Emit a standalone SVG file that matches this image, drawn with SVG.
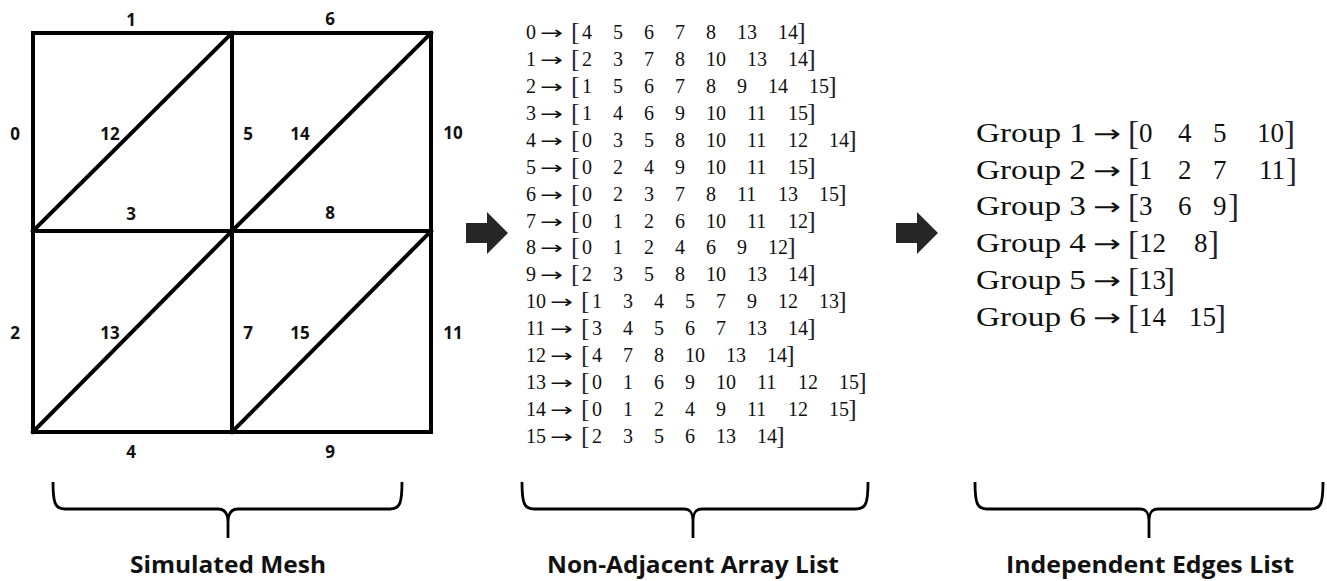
<svg xmlns="http://www.w3.org/2000/svg" width="1327" height="581" viewBox="0 0 1327 581">
<style>
.edge{stroke:#000;stroke-width:4;stroke-linecap:square;fill:none}
.el{font-family:"Open Sans","Liberation Sans",sans-serif;font-weight:bold;font-size:17px;fill:#111;text-anchor:middle}
.m{font-family:"Liberation Serif",serif;font-size:20px;fill:#111}
.ma{font-family:"DejaVu Sans",sans-serif;font-size:18px;fill:#111}
.mb{font-family:"Liberation Serif",serif;font-size:26px;fill:#223}
.g{font-family:"Liberation Serif",serif;font-size:27px;fill:#111}
.ga{font-family:"DejaVu Sans",sans-serif;font-size:24px;fill:#111}
.gb{font-family:"Liberation Serif",serif;font-size:33px;fill:#223}
.brace{fill:none;stroke:#000;stroke-width:2.8;stroke-linejoin:round}
.cap{font-family:"Open Sans","Liberation Sans",sans-serif;font-weight:bold;font-size:24px;fill:#111;text-anchor:middle}
.blk{fill:#262626}
</style>
<rect width="1327" height="581" fill="#fff"/>

<g id="mesh">
  <rect class="edge" x="33" y="33" width="398" height="399"/>
  <line class="edge" x1="232" y1="33" x2="232" y2="432"/>
  <line class="edge" x1="33" y1="231" x2="431" y2="231"/>
  <line class="edge" x1="33" y1="231" x2="232" y2="33"/>
  <line class="edge" x1="232" y1="231" x2="431" y2="33"/>
  <line class="edge" x1="33" y1="432" x2="232" y2="231"/>
  <line class="edge" x1="232" y1="432" x2="431" y2="231"/>
</g>

<g id="mesh-labels">
  <text class="el" x="131" y="26">1</text>
  <text class="el" x="330" y="25">6</text>
  <text class="el" x="15" y="140">0</text>
  <text class="el" x="110" y="140">12</text>
  <text class="el" x="248" y="140">5</text>
  <text class="el" x="300" y="140">14</text>
  <text class="el" x="453" y="139">10</text>
  <text class="el" x="131" y="220">3</text>
  <text class="el" x="330" y="219">8</text>
  <text class="el" x="15" y="339">2</text>
  <text class="el" x="110" y="339">13</text>
  <text class="el" x="248" y="339">7</text>
  <text class="el" x="300" y="339">15</text>
  <text class="el" x="453" y="339">11</text>
  <text class="el" x="131" y="458">4</text>
  <text class="el" x="330" y="458">9</text>
</g>

<g id="connectors">
  <path id="arrow1" class="blk" d="M466,223 H487 V212 L508,233 L487,254 V243 H466 Z"/>
  <path id="arrow2" class="blk" d="M896,223 H917 V212 L938,233 L917,254 V243 H896 Z"/>
</g>

<g id="non-adjacent-list">
  <g id="row0"><text class="m" y="39"><tspan x="526">0</tspan><tspan x="582">4</tspan><tspan x="613">5</tspan><tspan x="644">6</tspan><tspan x="675">7</tspan><tspan x="706">8</tspan><tspan x="737">13</tspan><tspan x="778">14</tspan></text><text class="ma" x="540" y="39" textLength="23" lengthAdjust="spacingAndGlyphs">→</text><text class="mb" y="40"><tspan x="571">[</tspan><tspan x="797">]</tspan></text></g>
  <g id="row1"><text class="m" y="65.9"><tspan x="526">1</tspan><tspan x="582">2</tspan><tspan x="613">3</tspan><tspan x="644">7</tspan><tspan x="675">8</tspan><tspan x="706">10</tspan><tspan x="747">13</tspan><tspan x="788">14</tspan></text><text class="ma" x="540" y="65.9" textLength="23" lengthAdjust="spacingAndGlyphs">→</text><text class="mb" y="66.9"><tspan x="571">[</tspan><tspan x="807">]</tspan></text></g>
  <g id="row2"><text class="m" y="92.9"><tspan x="526">2</tspan><tspan x="582">1</tspan><tspan x="613">5</tspan><tspan x="644">6</tspan><tspan x="675">7</tspan><tspan x="706">8</tspan><tspan x="737">9</tspan><tspan x="768">14</tspan><tspan x="809">15</tspan></text><text class="ma" x="540" y="92.9" textLength="23" lengthAdjust="spacingAndGlyphs">→</text><text class="mb" y="93.9"><tspan x="571">[</tspan><tspan x="828">]</tspan></text></g>
  <g id="row3"><text class="m" y="119.8"><tspan x="526">3</tspan><tspan x="582">1</tspan><tspan x="613">4</tspan><tspan x="644">6</tspan><tspan x="675">9</tspan><tspan x="706">10</tspan><tspan x="747">11</tspan><tspan x="788">15</tspan></text><text class="ma" x="540" y="119.8" textLength="23" lengthAdjust="spacingAndGlyphs">→</text><text class="mb" y="120.8"><tspan x="571">[</tspan><tspan x="807">]</tspan></text></g>
  <g id="row4"><text class="m" y="146.7"><tspan x="526">4</tspan><tspan x="582">0</tspan><tspan x="613">3</tspan><tspan x="644">5</tspan><tspan x="675">8</tspan><tspan x="706">10</tspan><tspan x="747">11</tspan><tspan x="788">12</tspan><tspan x="829">14</tspan></text><text class="ma" x="540" y="146.7" textLength="23" lengthAdjust="spacingAndGlyphs">→</text><text class="mb" y="147.7"><tspan x="571">[</tspan><tspan x="848">]</tspan></text></g>
  <g id="row5"><text class="m" y="173.7"><tspan x="526">5</tspan><tspan x="582">0</tspan><tspan x="613">2</tspan><tspan x="644">4</tspan><tspan x="675">9</tspan><tspan x="706">10</tspan><tspan x="747">11</tspan><tspan x="788">15</tspan></text><text class="ma" x="540" y="173.7" textLength="23" lengthAdjust="spacingAndGlyphs">→</text><text class="mb" y="174.7"><tspan x="571">[</tspan><tspan x="807">]</tspan></text></g>
  <g id="row6"><text class="m" y="200.6"><tspan x="526">6</tspan><tspan x="582">0</tspan><tspan x="613">2</tspan><tspan x="644">3</tspan><tspan x="675">7</tspan><tspan x="706">8</tspan><tspan x="737">11</tspan><tspan x="778">13</tspan><tspan x="819">15</tspan></text><text class="ma" x="540" y="200.6" textLength="23" lengthAdjust="spacingAndGlyphs">→</text><text class="mb" y="201.6"><tspan x="571">[</tspan><tspan x="838">]</tspan></text></g>
  <g id="row7"><text class="m" y="227.5"><tspan x="526">7</tspan><tspan x="582">0</tspan><tspan x="613">1</tspan><tspan x="644">2</tspan><tspan x="675">6</tspan><tspan x="706">10</tspan><tspan x="747">11</tspan><tspan x="788">12</tspan></text><text class="ma" x="540" y="227.5" textLength="23" lengthAdjust="spacingAndGlyphs">→</text><text class="mb" y="228.5"><tspan x="571">[</tspan><tspan x="807">]</tspan></text></g>
  <g id="row8"><text class="m" y="254.4"><tspan x="526">8</tspan><tspan x="582">0</tspan><tspan x="613">1</tspan><tspan x="644">2</tspan><tspan x="675">4</tspan><tspan x="706">6</tspan><tspan x="737">9</tspan><tspan x="768">12</tspan></text><text class="ma" x="540" y="254.4" textLength="23" lengthAdjust="spacingAndGlyphs">→</text><text class="mb" y="255.4"><tspan x="571">[</tspan><tspan x="787">]</tspan></text></g>
  <g id="row9"><text class="m" y="281.4"><tspan x="526">9</tspan><tspan x="582">2</tspan><tspan x="613">3</tspan><tspan x="644">5</tspan><tspan x="675">8</tspan><tspan x="706">10</tspan><tspan x="747">13</tspan><tspan x="788">14</tspan></text><text class="ma" x="540" y="281.4" textLength="23" lengthAdjust="spacingAndGlyphs">→</text><text class="mb" y="282.4"><tspan x="571">[</tspan><tspan x="807">]</tspan></text></g>
  <g id="row10"><text class="m" y="308.3"><tspan x="526">10</tspan><tspan x="592">1</tspan><tspan x="623">3</tspan><tspan x="654">4</tspan><tspan x="685">5</tspan><tspan x="716">7</tspan><tspan x="747">9</tspan><tspan x="778">12</tspan><tspan x="819">13</tspan></text><text class="ma" x="550" y="308.3" textLength="23" lengthAdjust="spacingAndGlyphs">→</text><text class="mb" y="309.3"><tspan x="581">[</tspan><tspan x="838">]</tspan></text></g>
  <g id="row11"><text class="m" y="335.2"><tspan x="526">11</tspan><tspan x="592">3</tspan><tspan x="623">4</tspan><tspan x="654">5</tspan><tspan x="685">6</tspan><tspan x="716">7</tspan><tspan x="747">13</tspan><tspan x="788">14</tspan></text><text class="ma" x="550" y="335.2" textLength="23" lengthAdjust="spacingAndGlyphs">→</text><text class="mb" y="336.2"><tspan x="581">[</tspan><tspan x="807">]</tspan></text></g>
  <g id="row12"><text class="m" y="362.2"><tspan x="526">12</tspan><tspan x="592">4</tspan><tspan x="623">7</tspan><tspan x="654">8</tspan><tspan x="685">10</tspan><tspan x="726">13</tspan><tspan x="767">14</tspan></text><text class="ma" x="550" y="362.2" textLength="23" lengthAdjust="spacingAndGlyphs">→</text><text class="mb" y="363.2"><tspan x="581">[</tspan><tspan x="786">]</tspan></text></g>
  <g id="row13"><text class="m" y="389.1"><tspan x="526">13</tspan><tspan x="592">0</tspan><tspan x="623">1</tspan><tspan x="654">6</tspan><tspan x="685">9</tspan><tspan x="716">10</tspan><tspan x="757">11</tspan><tspan x="798">12</tspan><tspan x="839">15</tspan></text><text class="ma" x="550" y="389.1" textLength="23" lengthAdjust="spacingAndGlyphs">→</text><text class="mb" y="390.1"><tspan x="581">[</tspan><tspan x="858">]</tspan></text></g>
  <g id="row14"><text class="m" y="416"><tspan x="526">14</tspan><tspan x="592">0</tspan><tspan x="623">1</tspan><tspan x="654">2</tspan><tspan x="685">4</tspan><tspan x="716">9</tspan><tspan x="747">11</tspan><tspan x="788">12</tspan><tspan x="829">15</tspan></text><text class="ma" x="550" y="416" textLength="23" lengthAdjust="spacingAndGlyphs">→</text><text class="mb" y="417"><tspan x="581">[</tspan><tspan x="848">]</tspan></text></g>
  <g id="row15"><text class="m" y="443"><tspan x="526">15</tspan><tspan x="592">2</tspan><tspan x="623">3</tspan><tspan x="654">5</tspan><tspan x="685">6</tspan><tspan x="716">13</tspan><tspan x="757">14</tspan></text><text class="ma" x="550" y="443" textLength="23" lengthAdjust="spacingAndGlyphs">→</text><text class="mb" y="444"><tspan x="581">[</tspan><tspan x="776">]</tspan></text></g>
</g>

<g id="independent-edges">
  <g id="group1"><text class="g" y="142"><tspan x="976" textLength="110" lengthAdjust="spacingAndGlyphs">Group 1</tspan><tspan x="1139">0</tspan><tspan x="1178">4</tspan><tspan x="1213">5</tspan><tspan x="1257">10</tspan></text><text class="ga" x="1093" y="142" textLength="28" lengthAdjust="spacingAndGlyphs">→</text><text class="gb" y="144"><tspan x="1128">[</tspan><tspan x="1284">]</tspan></text></g>
  <g id="group2"><text class="g" y="178.7"><tspan x="976" textLength="110" lengthAdjust="spacingAndGlyphs">Group 2</tspan><tspan x="1139">1</tspan><tspan x="1178">2</tspan><tspan x="1213">7</tspan><tspan x="1259">11</tspan></text><text class="ga" x="1093" y="178.7" textLength="28" lengthAdjust="spacingAndGlyphs">→</text><text class="gb" y="180.7"><tspan x="1128">[</tspan><tspan x="1286">]</tspan></text></g>
  <g id="group3"><text class="g" y="215.4"><tspan x="976" textLength="110" lengthAdjust="spacingAndGlyphs">Group 3</tspan><tspan x="1139">3</tspan><tspan x="1178">6</tspan><tspan x="1213">9</tspan></text><text class="ga" x="1093" y="215.4" textLength="28" lengthAdjust="spacingAndGlyphs">→</text><text class="gb" y="217.4"><tspan x="1128">[</tspan><tspan x="1228">]</tspan></text></g>
  <g id="group4"><text class="g" y="252.1"><tspan x="976" textLength="110" lengthAdjust="spacingAndGlyphs">Group 4</tspan><tspan x="1139">12</tspan><tspan x="1194">8</tspan></text><text class="ga" x="1093" y="252.1" textLength="28" lengthAdjust="spacingAndGlyphs">→</text><text class="gb" y="254.1"><tspan x="1128">[</tspan><tspan x="1208">]</tspan></text></g>
  <g id="group5"><text class="g" y="288.8"><tspan x="976" textLength="110" lengthAdjust="spacingAndGlyphs">Group 5</tspan><tspan x="1139">13</tspan></text><text class="ga" x="1093" y="288.8" textLength="28" lengthAdjust="spacingAndGlyphs">→</text><text class="gb" y="290.8"><tspan x="1128">[</tspan><tspan x="1164">]</tspan></text></g>
  <g id="group6"><text class="g" y="325.5"><tspan x="976" textLength="110" lengthAdjust="spacingAndGlyphs">Group 6</tspan><tspan x="1139">14</tspan><tspan x="1189">15</tspan></text><text class="ga" x="1093" y="325.5" textLength="28" lengthAdjust="spacingAndGlyphs">→</text><text class="gb" y="327.5"><tspan x="1128">[</tspan><tspan x="1215">]</tspan></text></g>
</g>

<g id="braces">
  <path class="brace" d="M53,482 C53,503 55,509 65,509 H218 C224,509 228,512 228,522 V538 M228,522 C228,512 232,509 238,509 H390 C400,509 402,503 402,482"/>
  <path class="brace" d="M522,482 C522,503 524,509 534,509 H684 C690,509 693,512 693,522 V538 M693,522 C693,512 696,509 702,509 H856 C866,509 868,503 868,482"/>
  <path class="brace" d="M975,482 C975,503 977,509 987,509 H1140 C1146,509 1149,512 1149,522 V538 M1149,522 C1149,512 1152,509 1158,509 H1311 C1321,509 1323,503 1323,482"/>
</g>

<g id="captions">
  <text class="cap" x="228" y="573" textLength="196" lengthAdjust="spacingAndGlyphs">Simulated Mesh</text>
  <text class="cap" x="693" y="573" textLength="292" lengthAdjust="spacingAndGlyphs">Non-Adjacent Array List</text>
  <text class="cap" x="1150" y="573" textLength="288" lengthAdjust="spacingAndGlyphs">Independent Edges List</text>
</g>
</svg>
